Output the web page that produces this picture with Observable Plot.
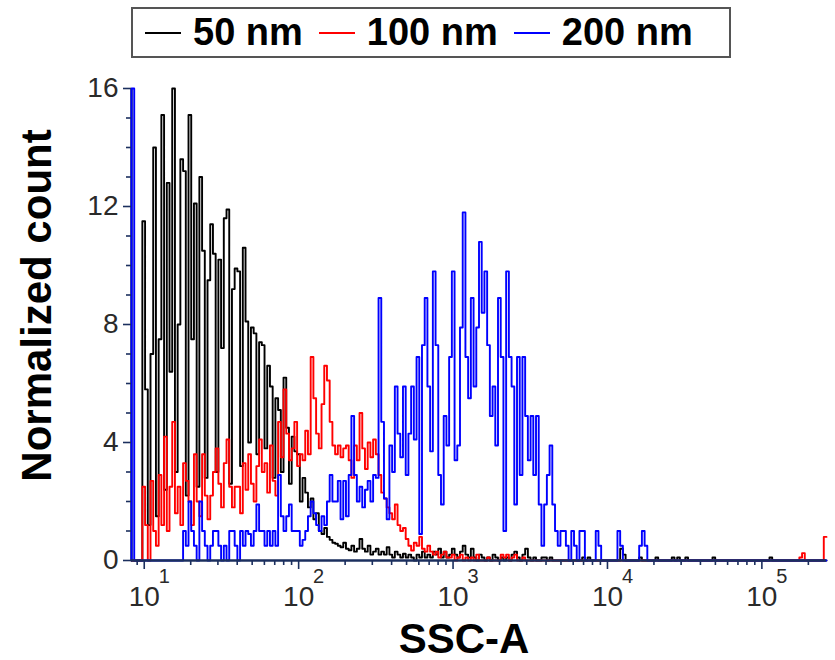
<!DOCTYPE html>
<html><head><meta charset="utf-8">
<script src="https://cdn.jsdelivr.net/npm/d3@7"></script>
<script src="https://cdn.jsdelivr.net/npm/@observablehq/plot@0.6"></script>
<style>
body{margin:0;background:#fff;font-family:"Liberation Sans",Arial,sans-serif;}
#wrap{position:relative;width:835px;height:660px;}
#legend{position:absolute;left:131px;top:7px;width:600px;height:51px;border:2px solid #555;box-sizing:border-box;display:flex;align-items:center;font-weight:bold;font-size:38px;color:#000;z-index:2;background:#fff;}
.sw{display:inline-block;width:36px;height:2px;margin-left:12px;margin-right:12px;}
.lab{margin-right:4px;}
</style></head>
<body><div id="wrap"><div id="legend"></div><div id="chart"></div></div>
<script>
// ---- data ----
const seriesNames = ["50 nm", "100 nm", "200 nm"];
const seriesColors = ["#000000", "#ff0000", "#0000ff"];
const xMin = 8.27, xMax = 262144, nBins = 256;
const yTicks = [0, 4, 8, 12, 16];
const yMinor = [1, 2, 3, 5, 6, 7, 9, 10, 11, 13, 14, 15];
const xDecades = [10, 100, 1000, 10000, 100000];
const xDecadeExp = ["1", "2", "3", "4", "5"];
const xMinor = [9, 20, 30, 40, 50, 60, 70, 80, 90, 200, 300, 400, 500, 600, 700, 800, 900,
  2000, 3000, 4000, 5000, 6000, 7000, 8000, 9000, 20000, 30000, 40000, 50000, 60000, 70000, 80000, 90000, 200000];
const yTitle = "Normalized count";
const xTitle = "SSC-A";

const black = [
  0, 0, 0, 0, 11.5, 5.8, 1.2, 7.0, 14.0, 1.5,
  7.5, 15.1, 2.4, 12.8, 6.4, 16.0, 3.0, 8.0, 13.6, 13.2,
  2.2, 15.1, 7.5, 12.1, 2.5, 13.0, 10.5, 2.8, 9.5, 11.4,
  10.4, 3.0, 10.2, 7.2, 11.6, 11.9, 2.6, 9.2, 9.9, 9.8,
  3.2, 10.6, 8.1, 4.0, 7.9, 7.7, 3.6, 7.4, 7.3, 3.8,
  6.6, 5.9, 2.8, 5.5, 5.1, 3.0, 6.2, 4.5, 2.6, 4.2,
  3.7, 3.6, 2.0, 2.8, 2.3, 1.8, 2.1, 1.4, 1.6, 1.0,
  0.9, 1.1, 0.8, 0.7, 0.6, 0.57, 0.5, 0.45, 0.6, 0.4,
  0.35, 0.5, 0.3, 0.4, 0.73, 0.4, 0.3, 0.5, 0.2, 0.3,
  0.4, 0.2, 0.3, 0.2, 0.45, 0.2, 0.1, 0.3, 0.2, 0.1,
  0.23, 0.1, 0.2, 0.1, 0, 0.2, 0.1, 0.3, 0.1, 0.2,
  0.1, 0.3, 0.2, 0.4, 0.1, 0.3, 0.1, 0.2, 0.4, 0.2,
  0.1, 0.3, 0.5, 0.2, 0.1, 0.4, 0.1, 0, 0.2, 0.1,
  0, 0.1, 0, 0.2, 0.1, 0, 0.1, 0, 0.1, 0,
  0.2, 0.3, 0.1, 0, 0.2, 0.4, 0.1, 0, 0.1, 0,
  0, 0.1, 0.1, 0, 0.1, 0, 0, 0, 0, 0,
  0, 0, 0, 0, 0, 0, 0.1, 0, 0.1, 0,
  0, 0, 0, 0, 0, 0, 0, 0, 0, 0,
  0.4, 0.2, 0, 0, 0, 0, 0, 0.1, 0, 0,
  0, 0, 0, 0.1, 0, 0, 0, 0, 0, 0.1,
  0, 0.1, 0, 0, 0.1, 0, 0, 0, 0, 0,
  0, 0, 0, 0, 0.1, 0, 0, 0, 0, 0,
  0, 0, 0, 0, 0, 0, 0, 0, 0, 0,
  0, 0, 0, 0, 0, 0.1, 0, 0, 0, 0,
  0, 0, 0, 0, 0, 0, 0, 0, 0, 0,
  0, 0, 0, 0, 0, 0
];
const red = [
  0, 0, 0, 0, 2.5, 1.2, 0, 2.7, 1.0, 0.5,
  2.9, 1.2, 4.2, 1.0, 2.5, 4.7, 1.6, 2.5, 1.2, 3.3,
  2.7, 2.0, 1.2, 3.6, 2.0, 1.5, 3.6, 2.2, 1.4, 2.2,
  3.0, 3.8, 2.6, 1.8, 3.3, 4.1, 2.5, 1.8, 2.5, 2.5,
  1.6, 3.3, 2.4, 3.6, 2.6, 2.0, 3.2, 4.1, 3.0, 3.3,
  2.3, 3.9, 2.7, 2.2, 4.7, 3.5, 5.8, 4.3, 3.4, 3.8,
  4.7, 3.2, 3.6, 3.4, 4.4, 3.6, 6.9, 5.5, 4.3, 3.8,
  5.3, 6.6, 6.1, 4.7, 3.9, 3.6, 3.9, 3.5, 3.8, 3.9,
  3.4, 2.8, 3.9, 3.4, 5.0, 3.8, 3.1, 4.0, 3.5, 4.1,
  3.6, 2.9, 2.3, 2.1, 1.8, 1.6, 1.4, 1.9, 1.2, 1.0,
  1.1, 0.73, 0.5, 0.34, 0.6, 0.5, 0.8, 0.4, 0.3, 0.5,
  0.3, 0.2, 0.3, 0.1, 0.2, 0.3, 0.1, 0.1, 0.2, 0,
  0.1, 0.2, 0, 0.1, 0, 0.1, 0, 0.2, 0, 0,
  0, 0.1, 0, 0, 0, 0, 0.2, 0.1, 0.2, 0,
  0.1, 0.2, 0, 0, 0.1, 0, 0, 0, 0, 0,
  0, 0, 0, 0, 0, 0, 0, 0, 0, 0,
  0, 0, 0, 0, 0, 0, 0, 0, 0, 0,
  0, 0, 0, 0, 0, 0, 0, 0, 0, 0,
  0, 0, 0, 0, 0, 0, 0, 0, 0, 0,
  0, 0, 0, 0, 0, 0, 0, 0, 0, 0,
  0, 0, 0, 0, 0, 0, 0, 0, 0, 0,
  0, 0, 0, 0, 0, 0, 0, 0, 0, 0,
  0, 0, 0, 0, 0, 0, 0, 0, 0, 0,
  0, 0, 0, 0, 0, 0, 0, 0, 0, 0,
  0, 0, 0, 0, 0, 0, 0.1, 0.25, 0, 0,
  0, 0, 0, 0, 0, 0.8
];
const blue = [
  16, 0, 0, 0, 0, 0, 0, 0, 0, 0,
  0, 0, 0, 0, 0, 0, 0, 0, 0, 1.0,
  0.5, 2.0, 1.0, 0.5, 0, 2.0, 1.0, 0.5, 0, 0.5,
  1.0, 1.0, 0.5, 0, 0.5, 0, 1.0, 1.0, 0.5, 0,
  1.0, 0.5, 1.0, 0.9, 0.5, 1.0, 1.9, 1.0, 1.0, 0.5,
  1.0, 0.5, 1.0, 0.5, 2.9, 1.5, 1.0, 1.5, 1.9, 1.0,
  1.0, 1.0, 0.5, 0.7, 1.0, 1.5, 2.0, 1.6, 1.2, 1.0,
  1.5, 1.2, 2.0, 2.9, 2.0, 2.0, 2.7, 1.4, 2.7, 1.5,
  2.9, 4.9, 2.9, 2.0, 2.5, 1.8, 2.4, 2.7, 2.0, 2.9,
  2.8, 8.9, 4.7, 2.1, 1.4, 3.9, 3.0, 5.9, 4.3, 3.5,
  5.9, 2.9, 4.3, 5.9, 4.1, 6.9, 0.9, 7.3, 8.9, 5.9,
  3.7, 9.8, 7.3, 2.9, 1.9, 4.9, 3.9, 6.9, 9.8, 3.4,
  3.9, 7.9, 11.8, 6.9, 5.5, 8.9, 5.9, 7.9, 10.8, 8.4,
  9.8, 7.3, 4.9, 5.9, 3.9, 8.9, 6.9, 1.0, 9.8, 6.9,
  5.9, 1.9, 6.9, 2.9, 6.9, 4.9, 3.4, 4.9, 2.9, 4.9,
  1.9, 0.5, 1.9, 2.9, 3.9, 1.9, 1.0, 0.5, 1.0, 1.0,
  0.5, 0, 1.0, 0.5, 0, 1.0, 1.0, 0, 0, 0,
  0, 1.0, 0.5, 0, 0, 0, 0, 0, 0, 1.0,
  0.5, 0, 0, 0, 0, 0, 0, 0.5, 1.0, 0.5,
  0, 0, 0, 0, 0, 0, 0, 0, 0, 0,
  0, 0, 0, 0, 0, 0, 0, 0, 0, 0,
  0, 0, 0, 0, 0, 0, 0, 0, 0, 0,
  0, 0, 0, 0, 0, 0, 0, 0, 0, 0,
  0, 0, 0, 0, 0, 0, 0, 0, 0, 0,
  0, 0, 0, 0, 0, 0, 0, 0, 0, 0,
  0, 0, 0, 0, 0, 0
];
const seriesValues = [black, red, blue];

// ---- build ----
const axisColor = "#1b2f5e";
const lo = Math.log10(xMin), hi = Math.log10(xMax);
const edges = d3.range(nBins + 1).map(i => 10 ** (lo + i * (hi - lo) / nBins));
function stepPoints(vals) {
  const pts = [{x: edges[0], y: 0}];
  vals.forEach((v, i) => pts.push({x: edges[i], y: v}));
  pts.push({x: edges[nBins], y: vals[nBins - 1]});
  return pts;
}

// legend
const leg = document.getElementById("legend");
seriesNames.forEach((n, i) => {
  const sw = document.createElement("span");
  sw.className = "sw"; sw.style.background = seriesColors[i];
  const t = document.createElement("span");
  t.className = "lab"; t.textContent = n;
  leg.appendChild(sw); leg.appendChild(t);
});

const chart = Plot.plot({
  width: 835, height: 660,
  marginLeft: 131, marginRight: 9, marginTop: 88, marginBottom: 100,
  style: {fontFamily: "'Liberation Sans', Arial, sans-serif", background: "transparent", overflow: "visible"},
  x: {type: "log", domain: [xMin, xMax], axis: null},
  y: {domain: [0, 16], axis: null},
  marks: [
    Plot.ruleX([xMin], {stroke: axisColor, strokeWidth: 2.5}),
    ...seriesValues.map((vals, i) => Plot.line(stepPoints(vals), {
      x: "x", y: "y", curve: "step-after", stroke: seriesColors[i], strokeWidth: 1.9
    })),
    Plot.ruleY([0], {stroke: axisColor, strokeWidth: 2.5}),
    Plot.axisY(yTicks, {tickSize: 8, tickPadding: 5, fontSize: 28, stroke: axisColor, strokeWidth: 1.6, fill: "#2a2a2a", label: null}),
    Plot.axisY(yMinor, {tickSize: 5, tickFormat: () => "", stroke: axisColor, strokeWidth: 1.6, label: null}),
    Plot.axisX(xDecades, {tickSize: 9, tickFormat: () => "", stroke: axisColor, strokeWidth: 1.6, label: null}),
    Plot.axisX(xMinor, {tickSize: 5, tickFormat: () => "", stroke: axisColor, strokeWidth: 1.6, label: null}),
    Plot.text(xDecades, {x: d => d, frameAnchor: "bottom", dy: 45, text: () => "10", fontSize: 28, lineAnchor: "bottom", fill: "#2a2a2a"}),
    Plot.text(xDecades, {x: d => d, frameAnchor: "bottom", dy: 22, dx: 20, text: (d, i) => xDecadeExp[i], fontSize: 20, lineAnchor: "bottom", fill: "#2a2a2a"}),
    Plot.text([yTitle], {frameAnchor: "left", dx: -94, dy: -19, rotate: -90, textAnchor: "middle", text: d => d, fontSize: 42, fontWeight: "bold", fill: "#000"}),
    Plot.text([xTitle], {frameAnchor: "bottom", dx: -15, dy: 92, textAnchor: "middle", text: d => d, fontSize: 42, fontWeight: "bold", fill: "#000"})
  ]
});
document.getElementById("chart").appendChild(chart);
</script></body></html>
